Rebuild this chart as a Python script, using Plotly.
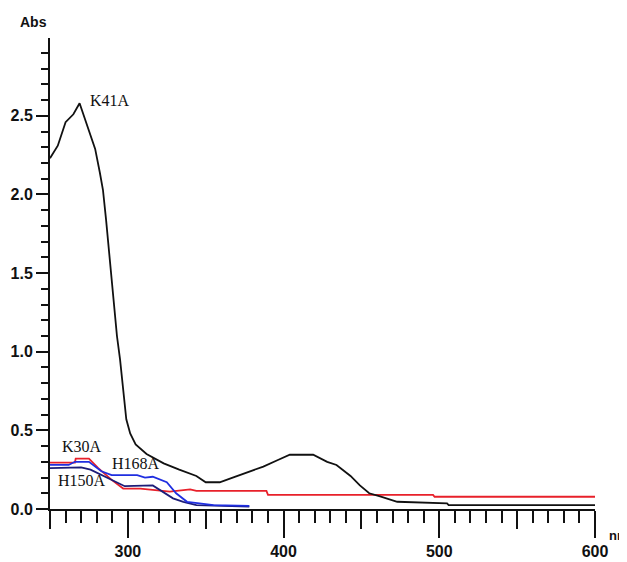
import plotly.graph_objects as go

# ---- data ----
k41a_nm = [250, 255, 260, 265, 269, 272.5, 276, 279, 282, 284, 286, 288.5, 291, 293, 295, 297, 299,
           301.5, 305, 312, 318, 323, 333, 344, 350, 359, 366, 376, 387, 396, 404, 419, 428, 434,
           443, 449, 455, 462, 473, 505, 506, 600]
k41a_abs = [2.23, 2.31, 2.46, 2.51, 2.58, 2.48, 2.37, 2.29, 2.14, 2.03, 1.84, 1.59, 1.33, 1.10, 0.95,
            0.74, 0.57, 0.48, 0.41, 0.35, 0.32, 0.29, 0.25, 0.21, 0.17, 0.17, 0.195, 0.23, 0.27, 0.31,
            0.345, 0.345, 0.30, 0.28, 0.21, 0.15, 0.10, 0.08, 0.046, 0.036, 0.025, 0.025]

k30a_nm = [250, 266, 266.5, 275, 281, 289.6, 297, 308, 327, 340, 344, 389, 390, 496, 497, 600]
k30a_abs = [0.295, 0.295, 0.32, 0.32, 0.26, 0.185, 0.13, 0.13, 0.11, 0.125, 0.115, 0.115, 0.09,
            0.09, 0.078, 0.078]

h168a_nm = [250, 262, 266, 275, 283, 289.6, 306, 311, 316, 325, 331, 338, 346, 355, 378]
h168a_abs = [0.28, 0.28, 0.30, 0.30, 0.24, 0.215, 0.215, 0.20, 0.205, 0.17, 0.10, 0.046, 0.036,
             0.025, 0.02]

h150a_nm = [250, 270, 276, 285, 293, 298, 316, 320.6, 329, 335.6, 344, 378]
h150a_abs = [0.26, 0.265, 0.25, 0.205, 0.165, 0.145, 0.15, 0.12, 0.068, 0.046, 0.025, 0.015]

x_major = [300, 400, 500, 600]
x_mid = [250, 350, 450, 550]
y_major = [0.0, 0.5, 1.0, 1.5, 2.0, 2.5]
y_labels = ["0.0", "0.5", "1.0", "1.5", "2.0", "2.5"]

series = [
    ("K30A", k30a_nm, k30a_abs, "#e8202a"),
    ("H150A", h150a_nm, h150a_abs, "#1c1c78"),
    ("H168A", h168a_nm, h168a_abs, "#1f2ee0"),
    ("K41A", k41a_nm, k41a_abs, "#111111"),
]

fig = go.Figure()
for name, xs, ys, col in series:
    fig.add_trace(go.Scatter(x=xs, y=ys, mode="lines", name=name,
                             line=dict(color=col, width=1.8), showlegend=False))

# invisible trace on secondary x-axis for medium ticks
fig.add_trace(go.Scatter(x=[250, 600], y=[0, 0], xaxis="x2", mode="lines",
                         line=dict(width=0), hoverinfo="skip", showlegend=False))

tick_font = dict(family="Liberation Sans Narrow, Liberation Sans, Arial", size=16, color="#111",
                 weight="bold")
label_font = dict(family="Liberation Serif, DejaVu Serif, serif", size=16, color="#111")

# page body adds an 8px offset, margins compensate for it
fig.update_layout(
    width=627, height=562,
    margin=dict(l=42, r=40, t=30, b=61, autoexpand=False),
    paper_bgcolor="white", plot_bgcolor="white",
    xaxis=dict(range=[250, 600], showgrid=False, zeroline=False, automargin=False,
               showline=True, linecolor="#111", linewidth=2,
               tickvals=x_major, ticktext=[str(v) for v in x_major],
               ticks="outside", ticklen=27, tickwidth=2, tickcolor="#111",
               tickfont=tick_font,
               minor=dict(dtick=10, tick0=250, ticks="outside", ticklen=12,
                          tickwidth=2, tickcolor="#111", showgrid=False)),
    xaxis2=dict(range=[250, 600], overlaying="x", anchor="y", side="bottom", automargin=False,
                showgrid=False, zeroline=False, showline=False,
                tickvals=x_mid, showticklabels=False,
                ticks="outside", ticklen=19, tickwidth=2, tickcolor="#111"),
    yaxis=dict(range=[0, 2.995], showgrid=False, zeroline=False, automargin=False,
               showline=True, linecolor="#111", linewidth=2,
               tickvals=y_major, ticktext=y_labels,
               ticks="outside", ticklen=12, tickwidth=2, tickcolor="#111",
               tickfont=tick_font,
               minor=dict(dtick=0.1, tick0=0, ticks="outside", ticklen=7,
                          tickwidth=2, tickcolor="#111", showgrid=False)),
    annotations=[
        dict(x=274.4, y=2.60, text="K41A", showarrow=False, xanchor="left", yanchor="middle", font=label_font),
        dict(x=256.2, y=0.395, text="K30A", showarrow=False, xanchor="left", yanchor="middle", font=label_font),
        dict(x=288.5, y=0.29, text="H168A", showarrow=False, xanchor="left", yanchor="middle", font=label_font),
        dict(x=253.9, y=0.18, text="H150A", showarrow=False, xanchor="left", yanchor="middle", font=label_font),
        dict(x=-0.059, y=1.034, xref="paper", yref="paper", text="Abs", showarrow=False,
             xanchor="left", yanchor="middle", font=dict(tick_font, size=14)),
        dict(x=1.0, y=-0.057, xref="paper", yref="paper", text="nm", showarrow=False,
             xanchor="left", yanchor="middle", xshift=12, font=dict(tick_font, size=13)),
    ],
)

fig.write_html("out.html")
